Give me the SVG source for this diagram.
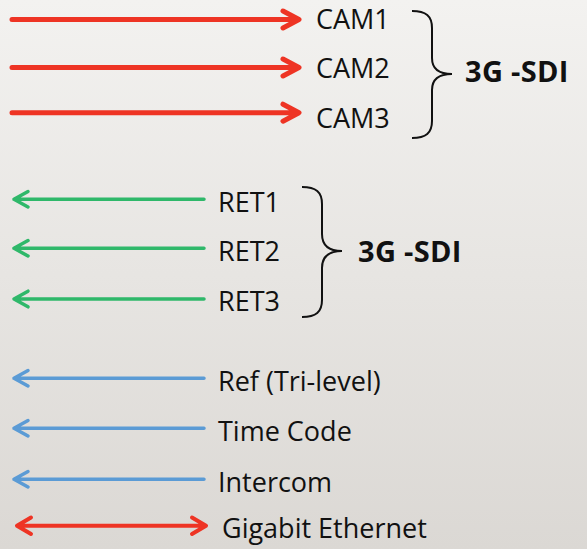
<svg xmlns="http://www.w3.org/2000/svg" width="587" height="549" viewBox="0 0 587 549">
<defs>
<linearGradient id="bg" x1="0" y1="0" x2="0" y2="1">
<stop offset="0" stop-color="#f3f2f0"/>
<stop offset="1" stop-color="#dbd8d4"/>
</linearGradient>
<style>
.t{font-family:"Open Sans","Liberation Sans",sans-serif;font-size:27px;fill:#111}
.b{font-family:"Open Sans","Liberation Sans",sans-serif;font-size:29px;letter-spacing:0.3px;font-weight:bold;fill:#111}
.red{stroke:#ee3424;stroke-width:5;fill:none;stroke-linecap:round;stroke-linejoin:round}
.red2{stroke:#ee3424;stroke-width:4;fill:none;stroke-linecap:round;stroke-linejoin:round}
.grn{stroke:#2fb86a;stroke-width:3.5;fill:none;stroke-linecap:round;stroke-linejoin:round}
.blu{stroke:#5b9bd5;stroke-width:3.5;fill:none;stroke-linecap:round;stroke-linejoin:round}
.br{stroke:#111;stroke-width:2;fill:none}
</style>
</defs>
<rect width="587" height="549" fill="url(#bg)"/>
<g id="connectors">
<path class="red" d="M12 19.5H298M283 11L299 19.5L283 28"/>
<path class="red" d="M12 67.5H298M283 59L299 67.5L283 76"/>
<path class="red" d="M12 112.7H298M283 104.2L299 112.7L283 121.2"/>
<path class="grn" d="M14 199.3H204M28 191.5L14 199.3L28 207"/>
<path class="grn" d="M14 248.3H204M28 240.5L14 248.3L28 256"/>
<path class="grn" d="M14 299H204M28 291.2L14 299L28 306.8"/>
<path class="blu" d="M14 378.3H204M28 370.5L14 378.3L28 386"/>
<path class="blu" d="M14 428.3H204M28 420.5L14 428.3L28 436"/>
<path class="blu" d="M14 479.3H204M28 471.5L14 479.3L28 487"/>
<path class="red2" d="M17 525.7H206M31 517.5L17 525.7L31 534M192 517.5L206 525.7L192 534"/>
</g>
<g id="cam1"><text class="t" x="316" y="28.5">CAM1</text></g>
<g id="cam2"><text class="t" x="316" y="78">CAM2</text></g>
<g id="cam3"><text class="t" x="316" y="128">CAM3</text></g>
<g id="brace1"><path class="br" d="M412 11C426 11 432 16 432 28V58C432 68 438 74 452 74C438 74 432 80 432 90V121C432 133 426 138 412 138"/></g>
<g id="sdi1"><text class="b" x="465" y="82">3G -SDI</text></g>
<g id="ret1"><text class="t" x="218" y="211.7">RET1</text></g>
<g id="ret2"><text class="t" x="218" y="261">RET2</text></g>
<g id="ret3"><text class="t" x="218" y="310.7">RET3</text></g>
<g id="brace2"><path class="br" d="M302 187C316 187 322 192 322 204V234C322 245 328 251 342 251C328 251 322 257 322 268V300C322 312 316 317 302 317"/></g>
<g id="sdi2"><text class="b" x="358" y="262">3G -SDI</text></g>
<g id="ref"><text class="t" x="218" y="390.7">Ref (Tri-level)</text></g>
<g id="tc"><text class="t" x="218" y="441">Time Code</text></g>
<g id="ic"><text class="t" x="218" y="491.7">Intercom</text></g>
<g id="ge"><text class="t" x="222" y="538">Gigabit Ethernet</text></g>
</svg>
